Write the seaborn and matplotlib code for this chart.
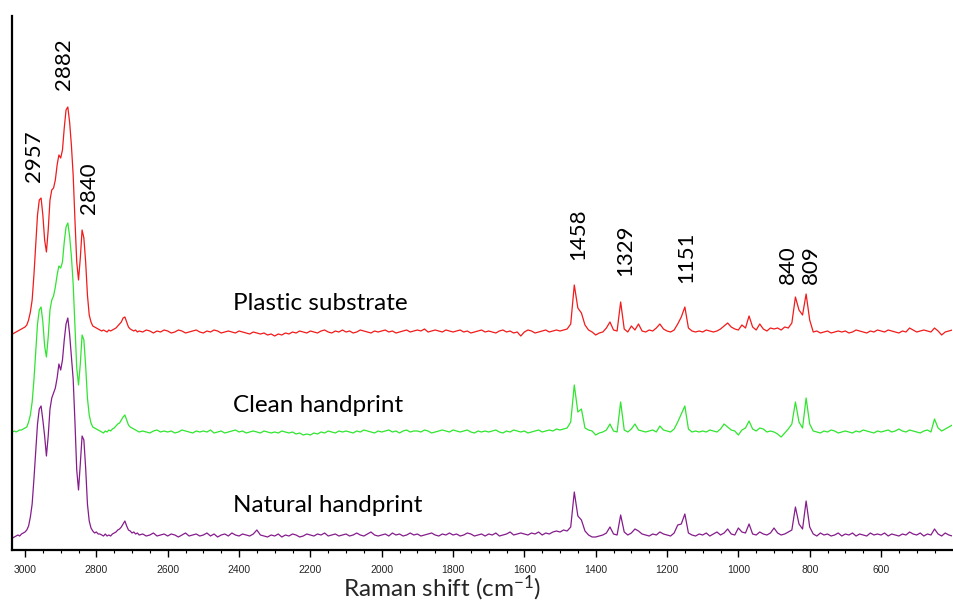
import numpy as np
import pandas as pd
import matplotlib
matplotlib.use("Agg")
import matplotlib.pyplot as plt
import seaborn as sns
from matplotlib.ticker import MultipleLocator

# ---------------- data ----------------
# wavenumber grid (cm-1): 5 cm-1 steps in the C-H stretch region, 10 cm-1 below
wn_ch = np.arange(3035, 2679, -5)
wn_fp = np.arange(2670, 399, -10)
wavenumber = np.concatenate([wn_ch, wn_fp])

# intensities (a.u., relative to each trace's own baseline)
plastic_ch = [
    -2, -1, 0, 1, 2, 3, 4, 5, 7, 12,
    20, 32, 57, 87, 117, 132, 134, 117, 92, 80,
    102, 132, 142, 144, 152, 167, 177, 174, 182, 204,
    222, 225, 210, 187, 157, 112, 70, 52, 74, 102,
    94, 70, 37, 17, 10, 6, 5, 4, 3, 2,
    1, 2, 1, 0, 2, 1, 2, 3, 4, 6,
    8, 10, 14, 15, 10, 5, 3, 2, 1, 2,
    0, 1]
plastic_fp = [
    0, 2, 1, -1, 1, 0, 2,
    1, -1, 0, 2, 1, -1, 0, 1, 2, 0,
    -1, 1, 0, 2, 1, -1, 0, 1, 0, -1,
    1, 0, -1, -2, 0, -1, -2, -1, -3, -2,
    -4, -2, -3, -1, -2, 0, -1, 1, 0, -1,
    1, 0, -1, 1, 2, 0, -1, 1, 0, 2,
    0, 1, -1, 0, 2, 1, 0, -1, 1, 0,
    1, 2, 0, 1, -1, 0, 1, 2, 0, 1,
    2, 1, 3, 0, 1, 2, 1, 0, 2, 1,
    0, 1, 2, 0, 1, -1, 0, 1, 2, 0,
    1, 0, -1, 1, 2, 0, 1, -1, 0, -4,
    0, 2, 1, -1, 0, 1, 2, 0, 1, 2,
    1, 2, 3, 8, 47, 24, 19, 7, 2, 0,
    -3, -1, 0, 4, 10, 2, 1, 30, 3, 0,
    6, 2, 8, 1, 0, 2, 1, 4, 8, 3,
    1, 0, 2, 8, 15, 25, 4, 1, 0, 1,
    0, 2, 1, 0, 1, 3, 6, 9, 5, 3,
    2, 7, 4, 16, 5, 2, 8, 3, 1, 4,
    3, 4, 2, 5, 4, 9, 35, 22, 17, 38,
    12, 0, 1, -1, 0, 1, -1, 0, 1, 0,
    1, -1, 0, 2, 1, 0, -1, 1, 0, 2,
    1, 0, 2, 1, 0, -1, 1, 0, 4, 2,
    0, 1, 2, 1, 0, 4, 1, -3, 0, 1,
    2]

clean_ch = [
    0, 1, 0, 1, 2, 2, 3, 4, 5, 10,
    17, 30, 52, 80, 108, 122, 125, 110, 86, 75,
    95, 122, 132, 136, 145, 157, 166, 164, 170, 190,
    205, 209, 196, 176, 148, 105, 64, 47, 68, 97,
    92, 66, 34, 17, 9, 5, 4, 3, 2, 1,
    0, -1, 1, 0, 2, 1, 3, 4, 6, 8,
    9, 12, 15, 17, 12, 7, 5, 4, 3, 2,
    1, 0]
clean_fp = [
    1, 0, -1, 1, 2, 0, 1,
    0, 1, -1, 0, 2, 1, 0, -1, 1, 0,
    1, 0, 2, -1, 0, 1, -1, 0, 1, 2,
    0, 1, -1, 0, 1, 0, -1, 1, 0, -1,
    0, -1, 1, 0, -1, 0, -2, -1, -3, -2,
    -3, -1, -2, 0, -1, 1, 0, -1, 1, 0,
    1, 0, -1, 1, 0, 2, 1, 0, -1, 1,
    0, 1, 2, 0, 1, -1, 1, 2, 0, 1,
    1, 0, 2, 1, -1, 0, 1, 2, 1, 0,
    2, 1, 0, 1, 2, 0, -1, 1, 0, 1,
    0, 1, 2, 0, -1, 1, 0, 2, 1, 0,
    1, -1, 0, 1, 2, 0, 1, 2, 1, 3,
    2, 3, 4, 10, 47, 20, 23, 4, 2, 1,
    -3, -1, 0, 2, 8, 1, 0, 30, 2, 0,
    3, 8, 2, 1, 0, 1, 2, 0, 6, 2,
    1, 0, 3, 10, 18, 26, 3, 0, 1, 0,
    1, 0, 2, 1, 0, 3, 8, 5, 2, 1,
    -3, 2, 4, 11, 3, 1, 4, 3, 0, 1,
    0, -2, -5, -1, 3, 8, 30, 10, 4, 34,
    8, 1, 0, -1, 1, 0, 2, 1, -1, 0,
    1, 0, -1, 1, 0, 2, 1, 0, -1, 1,
    0, 1, 2, 0, 1, 3, 1, 0, 2, 1,
    0, -1, 1, 2, 0, 13, 4, 1, 3, 5,
    7]

natural_ch = [
    -2, -1, 0, 1, 0, 2, 3, 4, 6, 10,
    19, 32, 57, 85, 112, 127, 130, 116, 100, 80,
    100, 127, 138, 143, 148, 158, 172, 166, 176, 196,
    212, 218, 202, 180, 157, 114, 66, 46, 72, 100,
    96, 68, 32, 15, 8, 5, 3, 4, 2, 2,
    1, 0, 2, 0, 1, 0, 2, 3, 4, 6,
    7, 9, 12, 15, 10, 6, 5, 3, 4, 2,
    3, 1]
natural_fp = [
    2, 0, 1, 3, 0, 1, 2,
    0, 2, 1, -1, 1, 3, 0, 1, 2, 0,
    1, 3, 0, 2, -1, 1, 2, 0, 3, 1,
    0, 2, 1, 0, 2, 6, 1, 0, -1, 1,
    0, 2, -1, 1, 0, 2, 1, -1, 0, 2,
    1, 0, 2, 1, 3, 0, 1, 2, 0, 1,
    2, 0, 1, 3, 1, 0, 2, 4, 1, 0,
    1, 2, 0, 3, 1, 2, 0, 1, 3, 1,
    2, 0, 1, 2, 3, 1, 0, 2, 1, 3,
    1, 2, 0, 1, 3, 2, 0, 1, 2, 0,
    2, 1, 3, 0, 1, 2, 4, 1, 2, 3,
    2, 1, 3, 2, 4, 1, 3, 2, 4, 5,
    4, 6, 5, 9, 44, 20, 16, 5, 1, -1,
    -1, 0, 1, 3, 9, 2, 1, 21, 4, 1,
    3, 7, 5, 2, 1, 0, 2, 1, 4, 2,
    1, 0, 3, 11, 12, 22, 3, 1, 0, 2,
    1, 3, 0, 2, 4, 1, 3, 7, 2, 1,
    8, 4, 3, 12, 2, 1, 4, 2, 1, 3,
    8, 3, 1, 2, 4, 6, 29, 12, 7, 35,
    9, 2, 0, 3, 1, 2, 0, 1, 3, 0,
    2, 1, 3, 0, 2, 1, 0, 3, 1, 2,
    1, 3, 0, 2, 1, 0, 2, 1, 4, 2,
    1, 3, 0, 2, 1, 7, 2, 0, 3, 1,
    0]

sample_names = ["Plastic substrate", "Clean handprint", "Natural handprint"]
sample_offsets = [218, 118, 14]
peak_labels = ["2957", "2882", "2840", "1458", "1329", "1151", "840", "809"]

# ---------------- styling / layout ----------------
sns.set_style("white")
plt.rcParams["font.family"] = ["Lato", "DejaVu Sans"]
plt.rcParams["mathtext.default"] = "regular"

colors = ["#f21a1a", "#2fe52f", "#851c8c"]
label_pos_x = [2975, 2890, 2820, 1448, 1316, 1145, 861, 796]
label_pos_y = [394, 486, 362, 316, 300, 293, 285, 285]
name_pos_x = 2418
name_pos_y = [246, 145, 45]

series = {
    sample_names[0]: np.array(plastic_ch + plastic_fp),
    sample_names[1]: np.array(clean_ch + clean_fp),
    sample_names[2]: np.array(natural_ch + natural_fp),
}
frames = []
for name, off in zip(sample_names, sample_offsets):
    frames.append(pd.DataFrame({
        "wavenumber": wavenumber,
        "intensity": series[name] + off,
        "sample": name,
    }))
df = pd.concat(frames, ignore_index=True)

fig = plt.figure(figsize=(9.54, 6.01), dpi=100)
ax = fig.add_axes([12 / 954, 51 / 601, 940 / 954, 534 / 601])

sns.lineplot(data=df, x="wavenumber", y="intensity", hue="sample",
             palette=dict(zip(sample_names, colors)), estimator=None,
             sort=False, legend=False, linewidth=0.9, ax=ax)

ax.set_xlim(3036.5, 401)
ax.set_ylim(0, 534)

for txt, x, y in zip(peak_labels, label_pos_x, label_pos_y):
    ax.text(x, y, txt, rotation=90, ha="center", va="center",
            fontsize=16, color="black")

for name, y in zip(sample_names, name_pos_y):
    ax.text(name_pos_x, y, name, ha="left", va="center", fontsize=17.5,
            color="black")

ax.set_xlabel("Raman shift (cm$^{-1}$)", fontsize=17.5)
ax.xaxis.set_label_coords(0.457, -0.044)
ax.set_ylabel("")
ax.set_yticks([])

ax.xaxis.set_major_locator(MultipleLocator(200))
ax.xaxis.set_minor_locator(MultipleLocator(50))
ax.tick_params(axis="x", which="major", direction="out", length=5, width=1,
               color="black", pad=6, labelsize=7.5, bottom=True)
ax.tick_params(axis="x", which="minor", direction="out", length=2.5,
               width=0.8, color="black", bottom=True)
for lab in ax.get_xticklabels():
    lab.set_family(["Liberation Sans Narrow", "Liberation Sans"])

for s in ["top", "right"]:
    ax.spines[s].set_visible(False)
for s in ["left", "bottom"]:
    ax.spines[s].set_color("black")
    ax.spines[s].set_linewidth(1.6)

fig.savefig("out.png", dpi=100, facecolor="white")
